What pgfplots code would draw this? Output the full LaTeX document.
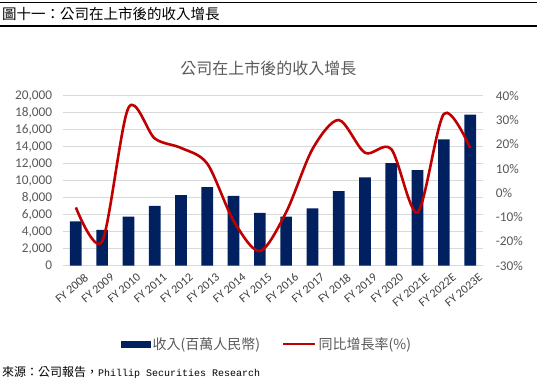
\documentclass[border=0pt]{standalone}
\usepackage{fontspec}
\setmainfont{Carlito}
\newfontfamily\cjk{Noto Sans CJK TC}
\newfontfamily\mono{Liberation Mono}
\usepackage{pgfplots}
\usepackage{pgfplotstable}
\pgfplotsset{compat=1.18}
\definecolor{navy}{HTML}{002060}
\definecolor{redl}{HTML}{C00000}
\definecolor{txt}{HTML}{595959}
\definecolor{gridc}{HTML}{D9D9D9}

\pgfplotstableread{
x rev g
0 5200 -6
1 4200 -20
2 5760 35
3 7050 22.4
4 8310 18.5
5 9250 12
6 8200 -11.5
7 6200 -24
8 5770 -8
9 6750 18
10 8780 30
11 10390 16.5
12 12080 18
13 11250 -8
14 14860 32.5
15 17770 18.5
}\data

\begin{document}
\begin{tikzpicture}[x=1pt,y=1pt]
\useasboundingbox (0,0) rectangle (537,379);
\draw[line width=1.2pt] (0,376.3) -- (537,376.3);
\draw[line width=1.2pt] (0,353) -- (537,353);
\node[anchor=west, inner sep=0pt, font=\cjk\fontsize{14.5}{16}\selectfont] at (2,365) {圖十一：公司在上市後的收入增長};
\node[inner sep=0pt, font=\cjk\fontsize{16}{18}\selectfont, text=txt] at (268.4,310.7) {公司在上市後的收入增長};
\node[anchor=west, inner sep=0pt, font=\cjk\fontsize{12}{14}\selectfont] at (2,7) {來源：公司報告，{\mono\fontsize{10}{12}\selectfont Phillip Securities Research}};

\begin{axis}[at={(62.7pt,113.3pt)}, anchor=south west, width=420.6pt, height=170pt, scale only axis,
  xmin=-0.5, xmax=15.5, ymin=0, ymax=20000,
  ytick={0,2000,...,20000},
  scaled y ticks=false,
  xtick={0,...,15},
  xticklabels={FY 2008,FY 2009,FY 2010,FY 2011,FY 2012,FY 2013,FY 2014,FY 2015,FY 2016,FY 2017,FY 2018,FY 2019,FY 2020,FY 2021E,FY 2022E,FY 2023E},
  axis y line*=left, axis x line*=bottom, axis line style={draw=none},
  major tick length=0pt,
  ymajorgrids, grid style={gridc, line width=0.8pt},
  tick label style={font=\fontsize{13.3}{15}\selectfont, text=txt},
  yticklabel style={xshift=-7pt},
  xticklabel style={rotate=40, anchor=north east, font=\fontsize{12}{14}\selectfont, xshift=5pt, yshift=-7pt, text=black!75},
  /pgf/number format/1000 sep={,},
  /pgf/number format/assume math mode=true,
  clip=false]
\addplot[ybar, bar width=11.7pt, fill=navy, draw=none] table[x=x,y=rev]{\data};
\end{axis}

\begin{axis}[at={(62.7pt,113.3pt)}, anchor=south west, width=420.6pt, height=170pt, scale only axis,
  xmin=-0.5, xmax=15.5, ymin=-30, ymax=40,
  ytick={-30,-20,...,40},
  axis y line*=right, axis x line=none, axis line style={draw=none},
  major tick length=0pt,
  yticklabel={\pgfmathprintnumber{\tick}\%},
  tick label style={font=\fontsize{13.3}{15}\selectfont, text=txt},
  yticklabel style={xshift=9pt},
  /pgf/number format/assume math mode=true,
  legend style={at={(0.486,-0.46)}, anchor=center, draw=none, fill=none,
    legend columns=2, font=\cjk\fontsize{14}{16}\selectfont, text=txt,
    /tikz/every even column/.append style={column sep=20pt}},
  clip=false]
\addlegendimage{legend image code/.code={\fill[navy] (0pt,-3pt) rectangle (29pt,3pt);}}
\addlegendentry{收入(百萬人民幣)}
\addplot[redl, line width=2.6pt, smooth, legend image code/.code={\draw[redl, line width=2.6pt] (0pt,0pt) -- (32pt,0pt);}] table[x=x,y=g]{\data};
\addlegendentry{同比增長率(\%)}
\end{axis}
\end{tikzpicture}
\end{document}
